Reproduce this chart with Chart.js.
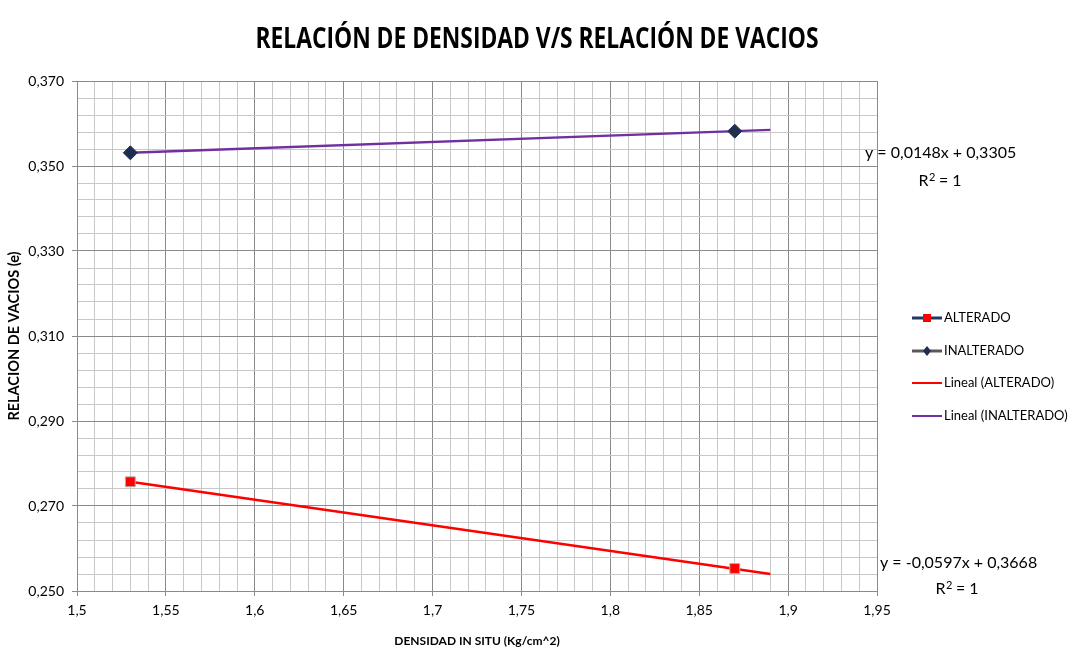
<!DOCTYPE html>
<html>
<head>
<meta charset="utf-8">
<script src="https://cdn.jsdelivr.net/npm/chart.js@4.4.1/dist/chart.umd.min.js"></script>
<style>
  html, body { margin: 0; padding: 0; background: #fff; }
  #wrap { width: 1071px; height: 649px; }
</style>
</head>
<body>
<div id="wrap"><canvas id="grafico"></canvas></div>
<script>
// datos
const densidad = [1.53, 1.87];
const alterado = [0.2757, 0.2553];
const inalterado = [0.3531, 0.3582];
const tendenciaX = [1.53, 1.89];
const tendenciaAlterado = [0.2757, 0.2540];
const tendenciaInalterado = [0.3531, 0.3585];
const ecuaciones = ['y = 0,0148x + 0,3305', 'y = -0,0597x + 0,3668'];
const nombres = ['ALTERADO', 'INALTERADO', 'Lineal (ALTERADO)', 'Lineal (INALTERADO)'];
const titulo = 'RELACIÓN DE DENSIDAD V/S RELACIÓN DE VACIOS';

const fuente = 'Lato, "Open Sans", sans-serif';
const coma = v => String(v).replace('.', ',');

function puntos(xs, ys) {
  return xs.map((x, i) => ({ x: x, y: ys[i] }));
}

// titulo, leyenda y ecuaciones dibujadas a mano
const extras = {
  id: 'extras',
  afterDraw(chart) {
    const ctx = chart.ctx;
    ctx.save();

    // titulo (fuente angosta tipo Calibri)
    ctx.font = 'bold 28px "Open Sans", sans-serif';
    ctx.fillStyle = '#000';
    ctx.textBaseline = 'middle';
    ctx.textAlign = 'left';
    const anchoT = ctx.measureText(titulo).width;
    const escala = 563 / anchoT;
    ctx.save();
    ctx.translate(537 - 563 / 2, 40);
    ctx.scale(escala, 1);
    ctx.fillText(titulo, 0, 0);
    ctx.restore();

    const filas = [318, 351, 383, 416];
    filas.forEach((y, i) => {
      const x0 = 912, x1 = 942, cx = 927;
      ctx.lineWidth = i >= 2 ? 2 : 3;
      ctx.strokeStyle = ['#1f3864', '#595959', '#ff0000', '#7030a0'][i];
      ctx.beginPath(); ctx.moveTo(x0, y); ctx.lineTo(x1, y); ctx.stroke();
      if (i === 0) {
        ctx.fillStyle = '#ff0000';
        ctx.fillRect(cx - 4, y - 4, 8, 8);
      } else if (i === 1) {
        ctx.fillStyle = '#1f2d50';
        ctx.beginPath();
        ctx.moveTo(cx, y - 5); ctx.lineTo(cx + 4, y); ctx.lineTo(cx, y + 5); ctx.lineTo(cx - 4, y);
        ctx.closePath(); ctx.fill();
      }
      ctx.fillStyle = '#000';
      ctx.font = '13px ' + fuente;
      ctx.textAlign = 'left';
      ctx.textBaseline = 'middle';
      ctx.fillText(nombres[i], 944, y);
    });

    ctx.font = '16px ' + fuente;
    ctx.textAlign = 'left';
    ctx.textBaseline = 'middle';
    ctx.fillText(ecuaciones[0], 865, 153);
    ctx.fillText(ecuaciones[1], 880, 563);
    [[940, 181], [957, 589]].forEach(p => {
      ctx.font = '16px ' + fuente;
      const w1 = ctx.measureText('R').width;
      const w3 = ctx.measureText(' = 1').width;
      ctx.font = '11px ' + fuente;
      const w2 = ctx.measureText('2').width;
      const inicio = p[0] - (w1 + w2 + w3) / 2;
      ctx.textAlign = 'left';
      ctx.font = '16px ' + fuente;
      ctx.fillText('R', inicio, p[1]);
      ctx.font = '11px ' + fuente;
      ctx.fillText('2', inicio + w1 + 0.5, p[1] - 4);
      ctx.font = '16px ' + fuente;
      ctx.fillText(' = 1', inicio + w1 + w2, p[1]);
    });
    ctx.restore();
  }
};

const esMayorX = v => Math.round(v * 100) % 5 === 0;
const esMayorY = v => Math.round(v * 1000) % 20 === 10;

new Chart(document.getElementById('grafico'), {
  type: 'scatter',
  data: {
    datasets: [
      {
        label: nombres[0],
        data: puntos(densidad, alterado),
        showLine: false,
        pointStyle: 'rect',
        pointRadius: 7,
        backgroundColor: '#ff0000',
        borderColor: '#b0b0b0',
        borderWidth: 1,
        order: 0
      },
      {
        label: nombres[1],
        data: puntos(densidad, inalterado),
        showLine: false,
        pointStyle: 'rectRot',
        pointRadius: 7,
        backgroundColor: '#1f2d50',
        borderColor: '#1f2d50',
        borderWidth: 1,
        order: 0
      },
      {
        label: nombres[2],
        data: puntos(tendenciaX, tendenciaAlterado),
        showLine: true,
        borderColor: '#ff0000',
        borderWidth: 2.5,
        pointRadius: 0,
        order: 1
      },
      {
        label: nombres[3],
        data: puntos(tendenciaX, tendenciaInalterado),
        showLine: true,
        borderColor: '#7030a0',
        borderWidth: 2.5,
        pointRadius: 0,
        order: 1
      }
    ]
  },
  options: {
    responsive: true,
    maintainAspectRatio: false,
    animation: false,
    layout: { padding: { left: 0, right: 194, top: 81, bottom: 0 } },
    plugins: {
      legend: { display: false },
      tooltip: { enabled: false },
      title: { display: false }
    },
    scales: {
      x: {
        type: 'linear',
        min: 1.5,
        max: 1.95,
        afterFit: s => { s.height = 58; },
        ticks: {
          stepSize: 0.01,
          autoSkip: false,
          maxRotation: 0,
          padding: 6,
          color: '#000',
          font: { family: fuente, size: 14 },
          callback: v => esMayorX(v) ? coma(Math.round(v * 100) / 100) : ''
        },
        grid: {
          color: c => esMayorX(c.tick.value) ? '#8a8a8a' : '#c8c8c8',
          tickColor: c => esMayorX(c.tick.value) ? '#8a8a8a' : 'rgba(0,0,0,0)',
          tickLength: 5,
          lineWidth: 1
        },
        border: { color: '#8a8a8a' },
        title: {
          display: true,
          text: 'DENSIDAD IN SITU (Kg/cm^2)',
          color: '#000',
          font: { family: fuente, size: 12, weight: 'bold' },
          padding: { top: 0, bottom: 1 }
        }
      },
      y: {
        type: 'linear',
        min: 0.25,
        max: 0.37,
        afterFit: s => { s.width = 77; },
        ticks: {
          stepSize: 0.004,
          autoSkip: false,
          padding: 8,
          color: '#000',
          font: { family: fuente, size: 14 },
          callback: v => esMayorY(v) ? coma((Math.round(v * 1000) / 1000).toFixed(3)) : ''
        },
        grid: {
          color: c => esMayorY(c.tick.value) ? '#8a8a8a' : '#c8c8c8',
          tickColor: c => esMayorY(c.tick.value) ? '#8a8a8a' : 'rgba(0,0,0,0)',
          tickLength: 5,
          lineWidth: 1
        },
        border: { color: '#8a8a8a' },
        title: {
          display: true,
          text: 'RELACION DE VACIOS (e)',
          color: '#000',
          font: { family: fuente, size: 14.5, weight: 'bold' },
          padding: { top: 6, bottom: 0 }
        }
      }
    }
  },
  plugins: [extras]
});
</script>
</body>
</html>
